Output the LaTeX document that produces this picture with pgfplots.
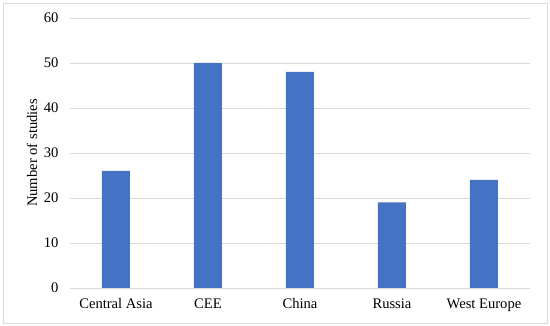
\documentclass[border=0pt]{standalone}
\usepackage{pgfplots}
\pgfplotsset{compat=1.18}
\usepackage{fontspec}
\setmainfont{Liberation Serif}
\definecolor{barblue}{HTML}{4472C4}
\definecolor{gridgray}{HTML}{D9D9D9}
\definecolor{framegray}{HTML}{D9D9D9}
\begin{document}
\begin{tikzpicture}[x=1pt,y=1pt]
\useasboundingbox (-70,-38) rectangle (480,288);
\draw[framegray, line width=0.8pt] (-67,-35) rectangle (477,285);
\begin{axis}[
  at={(0,0)}, anchor=south west,
  scale only axis,
  width=460pt, height=270pt,
  xmin=-0.5, xmax=4.5,
  ymin=0, ymax=60,
  ytick={0,10,...,60},
  xtick={0,1,2,3,4},
  xticklabels={Central Asia,CEE,China,Russia,West Europe},
  axis line style={draw=none},
  tick style={draw=none},
  ymajorgrids,
  grid style={gridgray, line width=0.8pt},
  font=\fontsize{14.6}{17}\selectfont,
  /pgf/number format/assume math mode=true,
  ylabel={Number of studies},
  ylabel style={at={(axis description cs:-0.0826,0.5)}, anchor=center},
  yticklabel style={xshift=-8pt},
  xticklabel style={yshift=-3pt},
  ybar, bar width=28pt,
]
\addplot[fill=barblue, draw=none] coordinates {(0,26) (1,50) (2,48) (3,19) (4,24)};
\end{axis}
\end{tikzpicture}
\end{document}
